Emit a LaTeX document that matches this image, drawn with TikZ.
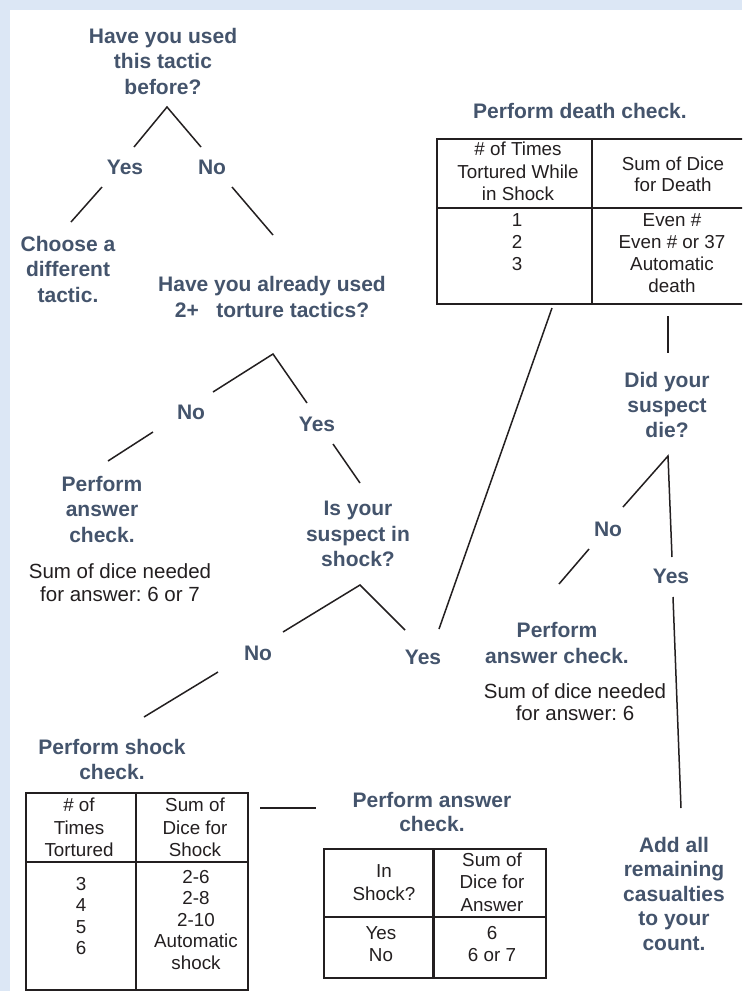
\documentclass[tikz,border=0pt]{standalone}
\usepackage{fontspec}
\setmainfont{Liberation Sans}
\frenchspacing
\definecolor{qcol}{HTML}{44546C}
\definecolor{ink}{HTML}{231F20}
\definecolor{framecol}{HTML}{DCE7F5}
\begin{document}
\begin{tikzpicture}[x=1pt,y=-1pt,
  q/.style={font=\fontsize{21}{25.5}\selectfont\bfseries, text=qcol, align=center, inner sep=0pt},
  plain/.style={font=\fontsize{20.5}{23}\selectfont, text=ink, align=center, inner sep=0pt},
  cell/.style={font=\fontsize{18.8}{22}\selectfont, text=ink, align=center, inner sep=0pt},
  tline/.style={draw=ink, line width=1.5pt},
  tbl/.style={draw=ink, line width=2pt},
  tblbox/.style={draw=ink, line width=2pt, anchor=north west, inner sep=0pt}]
\useasboundingbox (0,0) rectangle (742,991);
\clip (0,0) rectangle (742,991);
\fill[framecol] (0,0) rectangle (742,991);
\fill[white] (10,10) rectangle (742,991);

% ---------- text nodes ----------
\node[q] (q1) at (163,61.4) {Have you used\\this tactic\\before?};
\node[q] (yes1) at (125,167.5) {Yes};
\node[q] (no1) at (212,167.5) {No};
\node[q] (choose) at (68,269) {Choose a\\different\\tactic.};
\node[q] (q2) at (272,297) {Have you already used\\2+\ \ \ torture tactics?};
\node[q] (no2) at (191,412.5) {No};
\node[q] (yes2) at (317,424.5) {Yes};
\node[q] (ans1) at (102,509) {Perform\\answer\\check.};
\node[plain, font=\fontsize{20.5}{23.5}\selectfont] (ans1t) at (120,582.5) {Sum of dice needed\\for answer: 6 or 7};
\node[q] (q3) at (358,534) {Is your\\suspect in\\shock?};
\node[q] (no3) at (258,653.5) {No};
\node[q] (yes3) at (423,657) {Yes};
\node[q, font=\fontsize{21}{25}\selectfont\bfseries] (shockt) at (112,759) {Perform shock\\check.};
\node[q] (deatht) at (580,110.5) {Perform death check.};
\node[q, font=\fontsize{21}{25}\selectfont\bfseries] (q4) at (667,404.5) {Did your\\suspect\\die?};
\node[q] (no4) at (608,529.5) {No};
\node[q] (yes4) at (671,576.5) {Yes};
\node[q, font=\fontsize{21}{26}\selectfont\bfseries] (ans2) at (557,642.5) {Perform\\answer check.};
\node[plain, font=\fontsize{20.5}{22}\selectfont] (ans2t) at (575,702.5) {Sum of dice needed\\for answer: 6};
\node[q, font=\fontsize{21}{24.5}\selectfont\bfseries] (add) at (674,893.5) {Add all\\remaining\\casualties\\to your\\count.};
\node[q, font=\fontsize{21}{24}\selectfont\bfseries] (ans3) at (432,811.5) {Perform answer\\check.};

% ---------- tables ----------
\node[tblbox, minimum width=318, minimum height=165] (death) at (436,138) {};
\draw[tbl] (592,138) -- (592,303);
\draw[tbl] (436,208) -- (754,208);
\node[cell, font=\fontsize{18.8}{22.7}\selectfont] (dh1) at (518,171.5) {\# of Times\\Tortured While\\in Shock};
\node[cell, font=\fontsize{18.8}{21}\selectfont] (dh2) at (673,174.3) {Sum of Dice\\for Death};
\node[cell] (db1) at (517,242) {1\\2\\3};
\node[cell] (db2) at (672,253) {Even \#\\Even \# or 37\\Automatic\\death};

\node[tblbox, minimum width=222, minimum height=197] (shock) at (25,792) {};
\draw[tbl] (136,792) -- (136,989);
\draw[tbl] (25,862) -- (247,862);
\node[cell, font=\fontsize{18.8}{22.5}\selectfont] (sh1) at (79,827.3) {\# of\\Times\\Tortured};
\node[cell, font=\fontsize{18.8}{22.5}\selectfont] (sh2) at (195,827.3) {Sum of\\Dice for\\Shock};
\node[cell, font=\fontsize{18.8}{21.5}\selectfont] (sb1) at (81,916.2) {3\\4\\5\\6};
\node[cell, font=\fontsize{18.8}{21.5}\selectfont] (sb2) at (196,920) {2-6\\2-8\\2-10\\Automatic\\shock};

\node[tblbox, minimum width=222, minimum height=129] (answer) at (323,848) {};
\draw[draw=ink, line width=3pt] (433,848) -- (433,977);
\draw[tbl] (323,917) -- (545,917);
\node[cell, font=\fontsize{18.8}{22.7}\selectfont] (ah1) at (384,882.8) {In\\Shock?};
\node[cell, font=\fontsize{18.8}{22.7}\selectfont] (ah2) at (492,882) {Sum of\\Dice for\\Answer};
\node[cell, font=\fontsize{18.8}{21.7}\selectfont] (ab1) at (381,944) {Yes\\No};
\node[cell, font=\fontsize{18.8}{21.7}\selectfont] (ab2) at (492,944) {6\\6 or 7};

% ---------- connector end points ----------
\coordinate (a1) at (167,107);  \coordinate (a1l) at (134,147); \coordinate (a1r) at (201,147);
\coordinate (y1a) at (102,187); \coordinate (y1b) at (71,222);
\coordinate (n1a) at (232,187); \coordinate (n1b) at (273,235);
\coordinate (a2) at (273,354);  \coordinate (a2l) at (213,392); \coordinate (a2r) at (307,403);
\coordinate (n2a) at (153,432); \coordinate (n2b) at (108,461);
\coordinate (y2a) at (333,444); \coordinate (y2b) at (360,483);
\coordinate (a3) at (360,585);  \coordinate (a3l) at (283,632); \coordinate (a3r) at (405,630);
\coordinate (n3a) at (218,672); \coordinate (n3b) at (144,717);
\coordinate (y3a) at (439,629); \coordinate (y3b) at (552,308);
\coordinate (d1a) at (668,316); \coordinate (d1b) at (668,353);
\coordinate (a4) at (668,456);  \coordinate (a4l) at (623,507); \coordinate (a4r) at (672,557);
\coordinate (n4a) at (589,549); \coordinate (n4b) at (559,584);
\coordinate (y4a) at (673,597); \coordinate (y4b) at (681,808);
\coordinate (h1a) at (260,808); \coordinate (h1b) at (316,808);

% ---------- connectors ----------
\draw[tline] (a1l) -- (a1) -- (a1r);
\draw[tline] (y1a) -- (y1b);
\draw[tline] (n1a) -- (n1b);
\draw[tline] (a2l) -- (a2) -- (a2r);
\draw[tline] (n2a) -- (n2b);
\draw[tline] (y2a) -- (y2b);
\draw[tline] (a3l) -- (a3) -- (a3r);
\draw[tline] (n3a) -- (n3b);
\draw[tline] (y3a) -- (y3b);
\draw[tline] (d1a) -- (d1b);
\draw[tline] (a4l) -- (a4) -- (a4r);
\draw[tline] (n4a) -- (n4b);
\draw[tline] (y4a) -- (y4b);
\draw[tline] (h1a) -- (h1b);
\end{tikzpicture}
\end{document}
